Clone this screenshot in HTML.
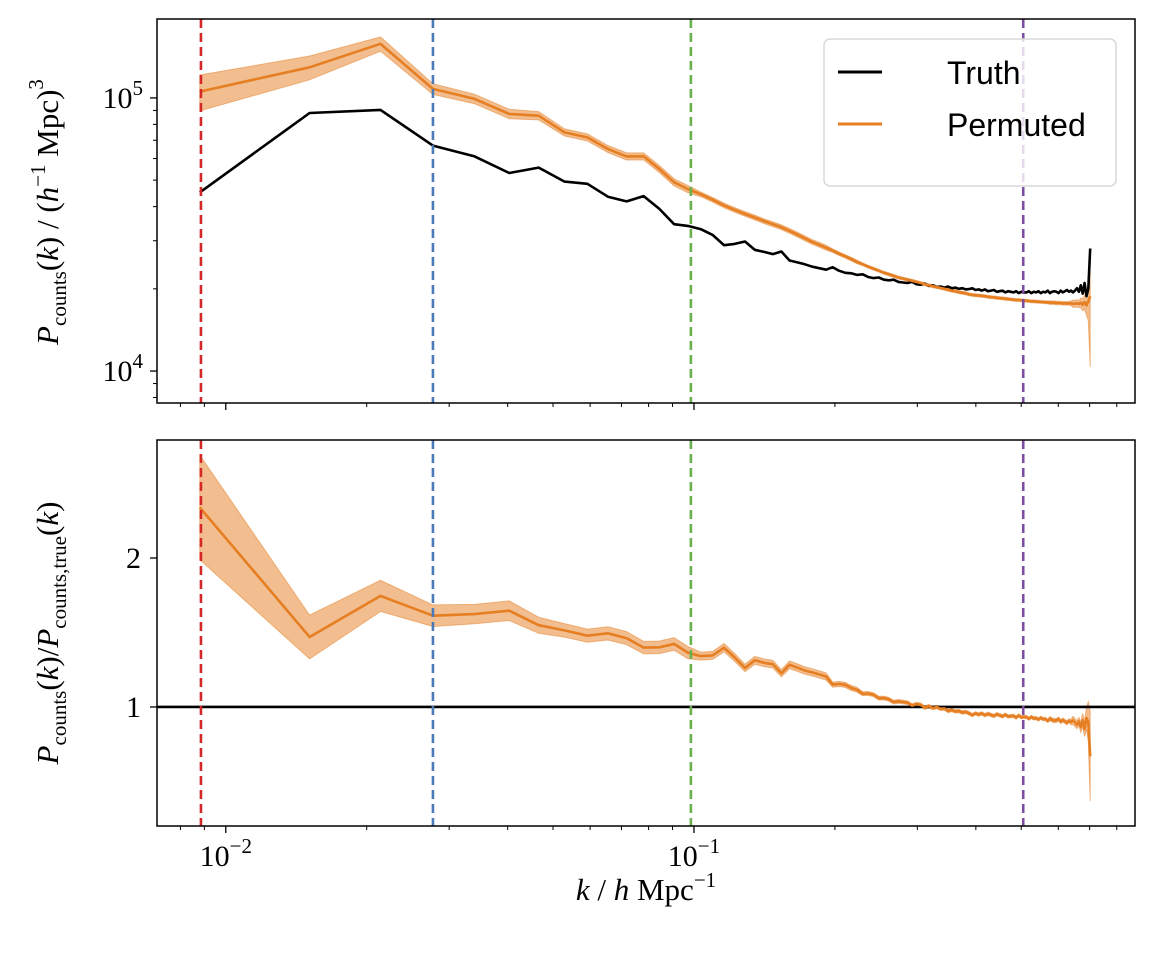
<!DOCTYPE html>
<html><head><meta charset="utf-8"><style>
body{margin:0;background:#fff}
svg{display:block}
text{font-family:"Liberation Serif",serif;fill:#000}
</style></head><body>
<svg id="chart" width="1156" height="956" viewBox="0 0 1156 956" xmlns="http://www.w3.org/2000/svg"></svg>
<script>
const kStart = 0.0088, kStep = 0.0063;
const vlinesK = [0.00885, 0.0277, 0.0985, 0.505];
const vlineColors = ['#d62728','#4a7ab8','#6ab04c','#7d4ea0'];
const truthP = [45100,88100,90400,66900,61100,53100,55600,49400,48500,43500,41800,43700,39200,34500,34000,
33100,31500,28900,29200,29800,27800,27300,26800,27400,25400,25000,24600,24100,23800,23500,24000,23300,22900,22800,22500,22600,22100,21900,22000,21600,
21500,21600,21200,21100,21000,21200,20800,20700,20900,20500,20600,20300,20400,20200,20400,20100,20200,20000,20100,19900,
19950,20100,19800,19900,19700,19900,19600,19700,19800,19500,19600,19700,19400,19600,19500,19400,19600,19300,19500,19400,
19400,19600,19300,19500,19400,19600,19300,19500,19400,19700,19300,19500,19600,19500,19300,19700,19400,19600,19800,19500,
19700,19400,19700,20100,19500,20600,19200,21000,18800,20000,28100];
const permP = [105500,129500,157800,107900,99200,87400,86100,74800,71700,65000,61100,61100,54900,49100,46400,
44400,42400,40400,38900,37600,36500,35400,34500,33600,32600,31600,30600,29700,29000,28300,27600,26900,26300,25700,25100,24600,24100,23700,23300,22900,
22600,22300,22000,21800,21600,21400,21200,21000,20800,20600,20450,20300,20150,20000,19850,19700,19600,19450,19350,19250,
19100,19000,18950,18900,18850,18800,18700,18650,18600,18550,18500,18450,18400,18350,18300,18250,18200,18200,18150,18100,
18100,18050,18000,18000,17950,17950,17900,17900,17850,17850,17800,17800,17800,17750,17750,17750,17700,17700,17700,17700,
17700,17650,17650,17700,17600,17800,17500,17900,17400,18000,18800];
const permErr = [0.15,0.10,0.06,0.045,0.04,0.04,0.035,0.03,0.03,0.03,0.03,0.03,0.03,0.03,0.03,
0.02,0.02,0.02,0.02,0.02,0.02,0.02,0.02,0.02,0.02,0.02,0.02,0.02,0.02,0.02,0.015,0.015,0.015,0.015,0.015,0.012,0.012,0.012,0.012,0.012,
0.012,0.012,0.012,0.012,0.012,0.012,0.012,0.012,0.012,0.012,0.012,0.012,0.012,0.012,0.012,0.012,0.012,0.012,0.012,0.012,
0.012,0.012,0.012,0.012,0.012,0.012,0.012,0.012,0.012,0.012,0.012,0.012,0.012,0.012,0.012,0.012,0.012,0.012,0.012,0.012,
0.012,0.012,0.012,0.012,0.012,0.012,0.012,0.012,0.012,0.012,0.015,0.015,0.015,0.015,0.015,0.015,0.015,0.015,0.015,0.015,
0.02,0.03,0.03,0.03,0.03,0.04,0.05,0.06,0.08,0.15,0.45];
const yTopTicks = [4,5];
const yBotTicks = [1,2];

const NS='http://www.w3.org/2000/svg';
const svg=document.getElementById('chart');
const AX={l:157,r:1135};
const TOP={t:19,b:403}, BOT={t:440,b:826};
const xLo=Math.log10(0.00713), xHi=Math.log10(0.875);
const X=k=>AX.l+(Math.log10(k)-xLo)/(xHi-xLo)*(AX.r-AX.l);
const yTLo=3.883,yTHi=5.289;
const YT=v=>TOP.b-(Math.log10(v)-yTLo)/(yTHi-yTLo)*(TOP.b-TOP.t);
const yBLo=0.201,yBHi=2.792;
const YB=v=>BOT.b-(v-yBLo)/(yBHi-yBLo)*(BOT.b-BOT.t);
function el(tag,attrs,parent){const e=document.createElementNS(NS,tag);for(const a in attrs)e.setAttribute(a,attrs[a]);(parent||svg).appendChild(e);return e;}
const kArr=truthP.map((_,i)=>kStart+kStep*i);
const ratio=permP.map((p,i)=>p/truthP[i]);

function panel(P,name,Y,lines){
  const g=el('g',{});
  
  
  const cid='clip-'+name;
  const cp=el('clipPath',{id:cid},g);el('rect',{x:AX.l,y:P.t,width:AX.r-AX.l,height:P.b-P.t},cp);
  const inner=el('g',{'clip-path':'url(#'+cid+')'},g);
  lines(inner);
  vlinesK.forEach((k,i)=>{
    const l=el('line',{x1:X(k),x2:X(k),y1:P.t,y2:P.b,stroke:vlineColors[i],'stroke-width':2.6,'stroke-dasharray':'9,5'},inner);
    
    
  });
  const fr=el('rect',{x:AX.l,y:P.t,width:AX.r-AX.l,height:P.b-P.t,fill:'none',stroke:'#000','stroke-width':1.5},g);
  
  
  for(let e=-3;e<=0;e++)for(let m=1;m<10;m++){
    const k=m*Math.pow(10,e);const x=X(k);if(x<AX.l||x>AX.r)continue;
    el('line',{x1:x,x2:x,y1:P.b,y2:P.b+(m==1?7:4),stroke:'#000','stroke-width':m==1?1.3:1},g);
  }
  return g;
}
function pathFrom(xs,ys){return xs.map((x,i)=>(i?'L':'M')+x.toFixed(1)+' '+ys[i].toFixed(1)).join('');}

panel(TOP,'top-panel',YT,g=>{
  const up=permP.map((p,i)=>YT(p*(1+permErr[i]))), lo=permP.map((p,i)=>YT(p*(1-permErr[i])));
  const xs=kArr.map(X);
  const band=el('path',{d:pathFrom(xs,up)+xs.slice().reverse().map((x,i)=>'L'+x.toFixed(1)+' '+lo[lo.length-1-i].toFixed(1)).join('')+'Z',fill:'#e67e22','fill-opacity':0.5,stroke:'#e67e22','stroke-opacity':0.5,'stroke-width':1},g);
  
  
  const t=el('path',{d:pathFrom(xs,truthP.map(YT)),fill:'none',stroke:'#000','stroke-width':2.6,'stroke-linejoin':'round'},g);
  
  
  const p=el('path',{d:pathFrom(xs,permP.map(YT)),fill:'none',stroke:'#e67e22','stroke-width':2.6,'stroke-linejoin':'round'},g);
  
  
});
panel(BOT,'bottom-panel',YB,g=>{
  const xs=kArr.map(X);
  const up=ratio.map((r,i)=>YB(r*(1+permErr[i]))), lo=ratio.map((r,i)=>YB(r*(1-permErr[i])));
  const band=el('path',{d:pathFrom(xs,up)+xs.slice().reverse().map((x,i)=>'L'+x.toFixed(1)+' '+lo[lo.length-1-i].toFixed(1)).join('')+'Z',fill:'#e67e22','fill-opacity':0.5,stroke:'#e67e22','stroke-opacity':0.5,'stroke-width':1},g);
  
  
  const one=el('line',{x1:AX.l,x2:AX.r,y1:YB(1),y2:YB(1),stroke:'#000','stroke-width':2.6},g);
  
  
  const p=el('path',{d:pathFrom(xs,ratio.map(YB)),fill:'none',stroke:'#e67e22','stroke-width':2.6,'stroke-linejoin':'round'},g);
  
  
});
yTopTicks.forEach(e=>{
  const y=YT(Math.pow(10,e));
  el('line',{x1:AX.l-7,x2:AX.l,y1:y,y2:y,stroke:'#000','stroke-width':1.3});
  const t=el('text',{x:AX.l-14,y:y+10,'font-size':30,'text-anchor':'end'});
  
  
  t.innerHTML='10<tspan dy="-13" font-size="21">'+e+'</tspan>';
});
for(let e=3;e<=5;e++)for(let m=2;m<10;m++){const v=m*Math.pow(10,e),y=YT(v);if(y<TOP.t||y>TOP.b)continue;el('line',{x1:AX.l-4,x2:AX.l,y1:y,y2:y,stroke:'#000','stroke-width':1});}
yBotTicks.forEach(v=>{
  const y=YB(v);
  el('line',{x1:AX.l-7,x2:AX.l,y1:y,y2:y,stroke:'#000','stroke-width':1.3});
  const t=el('text',{x:AX.l-16,y:y+10,'font-size':30,'text-anchor':'end'});
  
  
  t.textContent=v;
});
[-2,-1].forEach(e=>{
  const x=X(Math.pow(10,e));
  const t=el('text',{x:x,y:866,'font-size':30,'text-anchor':'middle'});
  
  
  t.innerHTML='10<tspan dy="-13" font-size="21">−'+(-e)+'</tspan>';
});
</script>
<svg style="position:absolute;left:0;top:0" width="1156" height="956">
<text x="646" y="900" font-size="31" text-anchor="middle" style="font-family:'Liberation Serif',serif"><tspan font-style="italic">k</tspan> / <tspan font-style="italic">h</tspan> Mpc<tspan dy="-13" font-size="21">−1</tspan></text>
<text transform="translate(58,212) rotate(-90)" font-size="31" text-anchor="middle" style="font-family:'Liberation Serif',serif"><tspan font-style="italic">P</tspan><tspan dy="8" font-size="21">counts</tspan><tspan dy="-8">(</tspan><tspan font-style="italic">k</tspan>)  /  (<tspan font-style="italic">h</tspan><tspan dy="-13" font-size="21">−1</tspan><tspan dy="13"> Mpc)</tspan><tspan dy="-15" font-size="21">3</tspan></text>
<text transform="translate(58,633) rotate(-90)" font-size="31" text-anchor="middle" style="font-family:'Liberation Serif',serif"><tspan font-style="italic">P</tspan><tspan dy="8" font-size="21">counts</tspan><tspan dy="-8">(</tspan><tspan font-style="italic">k</tspan>)/<tspan font-style="italic">P</tspan><tspan dy="8" font-size="21">counts,true</tspan><tspan dy="-8">(</tspan><tspan font-style="italic">k</tspan>)</text>
<g>
<rect x="824" y="39" width="292" height="147" rx="6" fill="#fff" fill-opacity="0.8" stroke="#d8d8d8" stroke-width="1.5"/>
<line x1="838" x2="882" y1="72" y2="72" stroke="#000" stroke-width="3"/>
<text x="947" y="84" font-size="32" style="font-family:'Liberation Sans',sans-serif">Truth</text>
<line x1="838" x2="882" y1="124" y2="124" stroke="#e67e22" stroke-width="3"/>
<text x="947" y="136" font-size="32" style="font-family:'Liberation Sans',sans-serif">Permuted</text>
</g>
</svg>
</body></html>
